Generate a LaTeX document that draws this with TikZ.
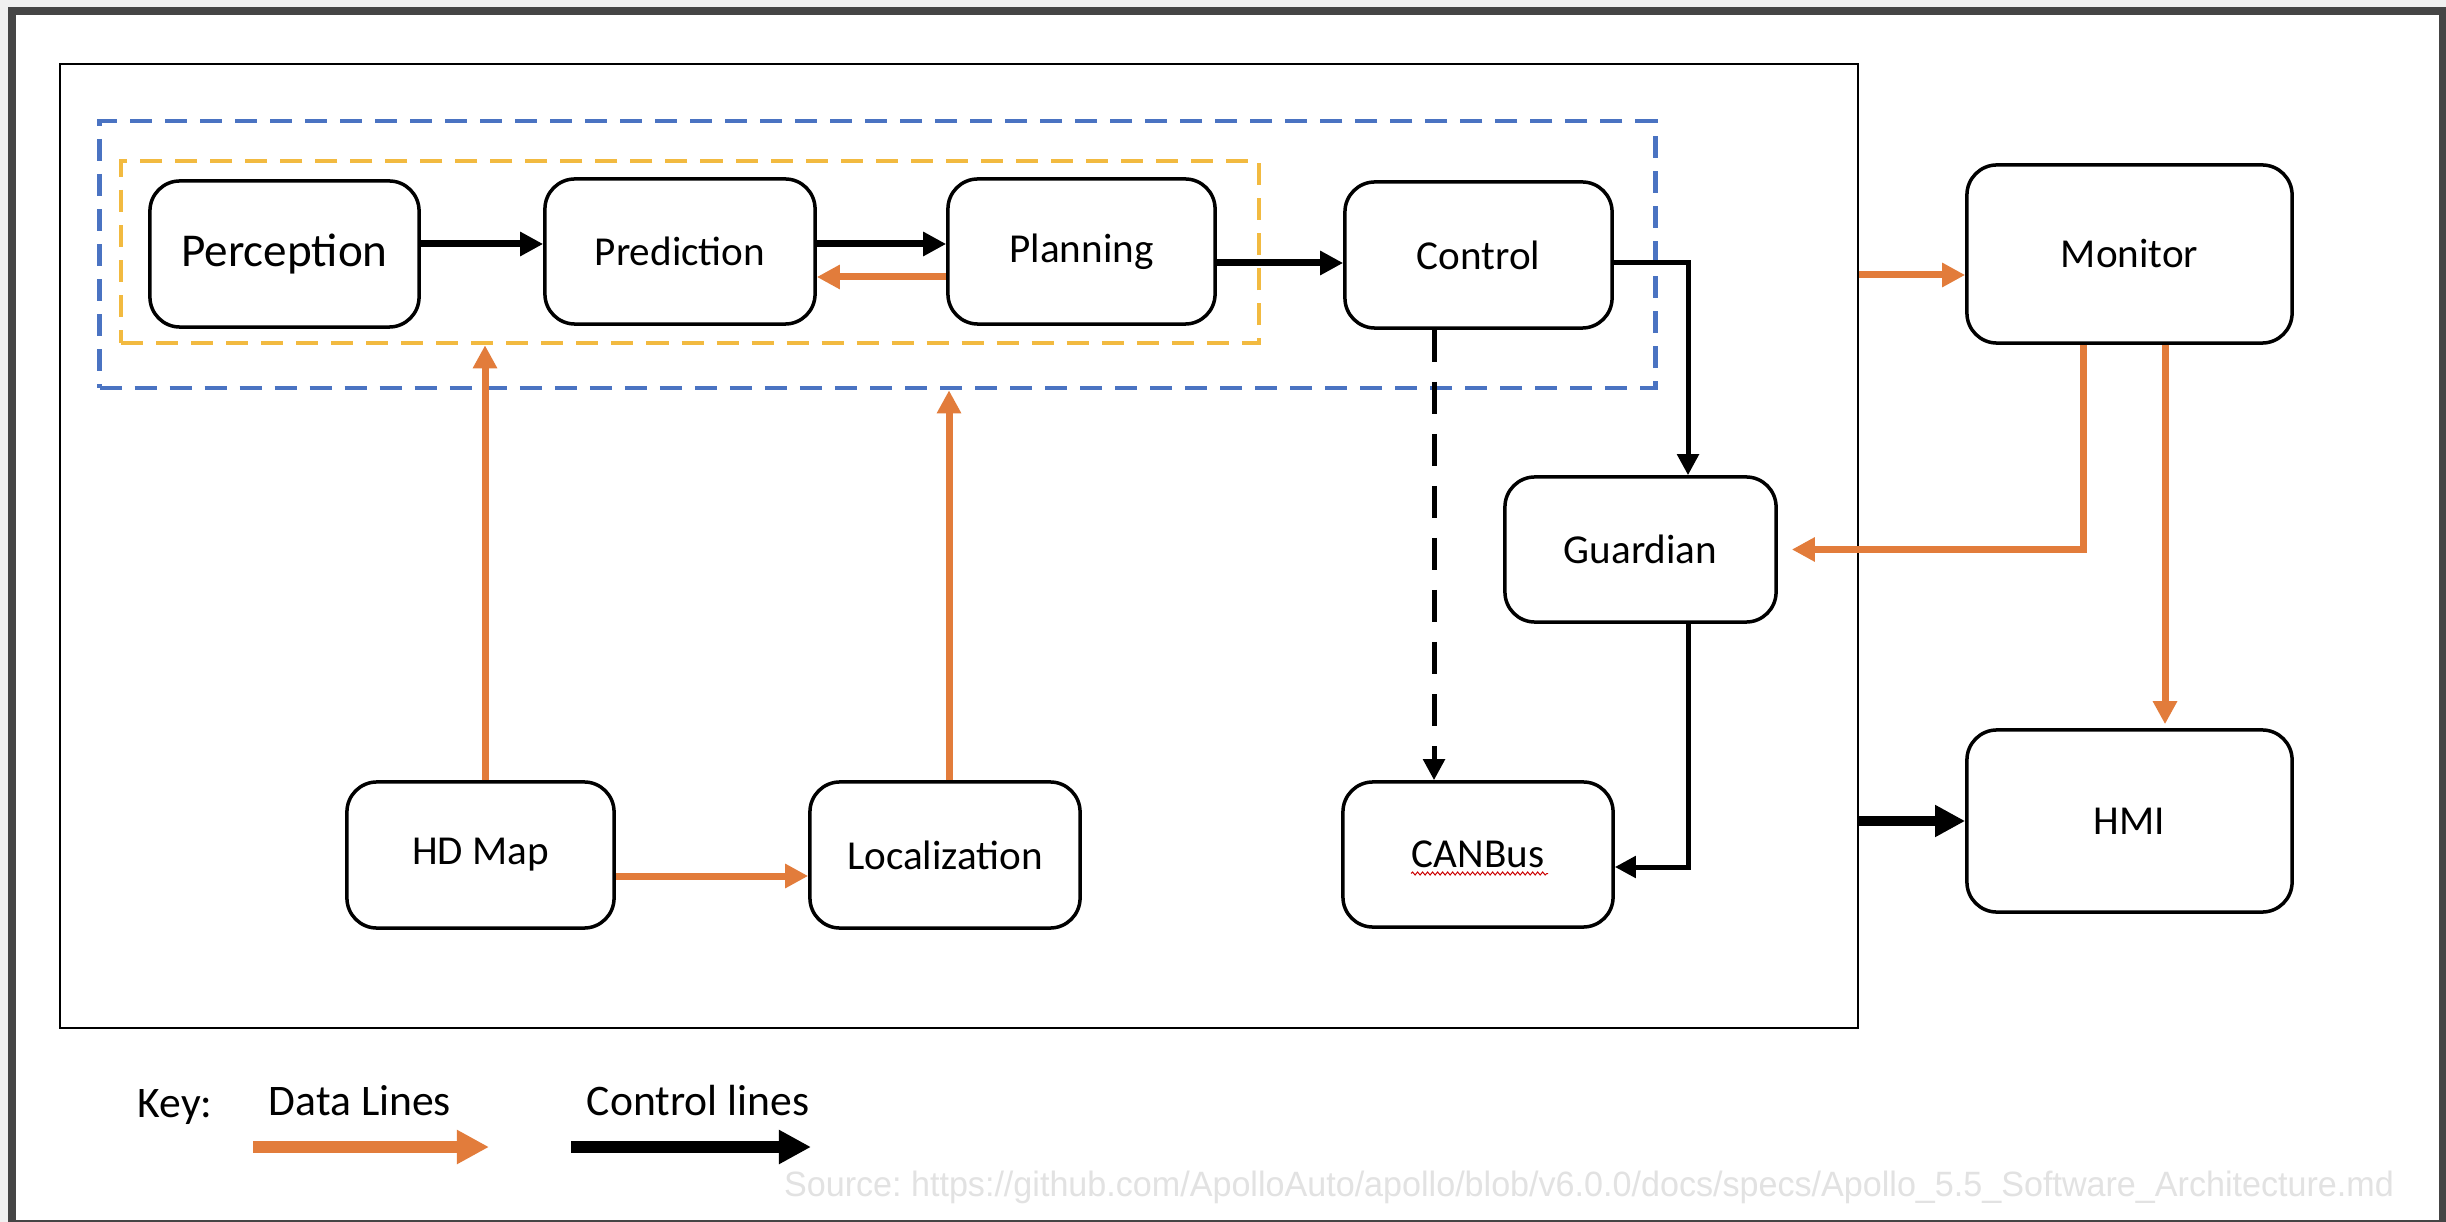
\documentclass[tikz,border=0pt]{standalone}
\usepackage{fontspec}
\usepackage{graphicx}
\setmainfont{Carlito}
\newfontfamily\srcfont{Liberation Sans}
\usetikzlibrary{arrows.meta,calc,decorations.pathmorphing}
\definecolor{dataorange}{HTML}{E27C3B}
\definecolor{groupblue}{HTML}{4A73C2}
\definecolor{groupyellow}{HTML}{F2BA40}
\definecolor{pageframe}{HTML}{454545}
\definecolor{pagegray}{HTML}{F0F0F0}
\definecolor{sourcegray}{HTML}{E2E2E2}
\frenchspacing
\begin{document}
\begin{tikzpicture}[x=0.01cm,y=-0.01cm,
  module/.style={draw, line width=0.035cm, rounded corners=0.3cm, fill=white,
    inner sep=0pt, font=\fontsize{11.7pt}{14pt}\selectfont},
  bigmodule/.style={module, font=\fontsize{13.4pt}{16pt}\selectfont},
  group/.style={draw, line width=0.045cm, dash pattern=on 0.22cm off 0.13cm, inner sep=0pt},
  dataline/.style={draw=dataorange, line width=0.07cm, -{Triangle[length=0.23cm,width=0.23cm]}},
  ctrlline/.style={draw=black, line width=0.07cm, -{Triangle[length=0.23cm,width=0.23cm]}},
  ctrlthin/.style={draw=black, line width=0.05cm, -{Triangle[length=0.21cm,width=0.21cm]}},
  ctrldash/.style={ctrlthin, dash pattern=on 0.32cm off 0.2cm},
  ctrlthick/.style={draw=black, line width=0.1cm, -{Triangle[length=0.3cm,width=0.3cm]}},
  legendarrow/.style={line width=0.12cm, -{Triangle[length=0.32cm,width=0.32cm]}},
  legendtext/.style={font=\fontsize{12.4pt}{15pt}\selectfont, inner sep=0pt}]

% page background and window frame
\useasboundingbox (0,0) rectangle (2446,1222);
\fill[pagegray] (0,0) rectangle (2446,1222);
\fill[pageframe] (8,7) rectangle (2446,1222);
\fill[white] (16,15) rectangle (2439,1220);

% system boundary and module groups
\node[draw, line width=0.02cm, minimum width=17.96cm, minimum height=9.64cm, inner sep=0pt] (frame) at (959,546) {};
\node[group, draw=groupblue, minimum width=15.55cm, minimum height=2.67cm] (blue) at (877.5,254.5) {};
\node[group, draw=groupyellow, minimum width=11.37cm, minimum height=1.82cm] (yellow) at (690,252) {};

% modules
\node[bigmodule, minimum width=2.69cm, minimum height=1.46cm] (perc) at (284.5,254) {Perception};
\node[module, minimum width=2.70cm, minimum height=1.45cm] (pred) at (680,251.5) {Prediction};
\node[module, minimum width=2.67cm, minimum height=1.45cm] (plan) at (1081.5,251.5) {Planning};
\node[module, minimum width=2.67cm, minimum height=1.46cm] (ctrl) at (1478.5,255) {Control};
\node[module, minimum width=2.71cm, minimum height=1.45cm] (guard) at (1640.5,549.5) {Guardian};
\node[module, minimum width=2.70cm, minimum height=1.45cm] (canbus) at (1478,854.5) {CANBus};
\node[module, minimum width=2.67cm, minimum height=1.46cm] (hdmap) at (480.5,855) {HD Map};
\node[module, minimum width=2.70cm, minimum height=1.46cm] (loc) at (945,855) {Localization};
\node[module, minimum width=3.25cm, minimum height=1.78cm] (mon) at (2129.5,254) {Monitor};
\node[module, minimum width=3.25cm, minimum height=1.82cm] (hmi) at (2129.5,821) {HMI};

% spell-check squiggle under CANBus
\draw[red!80!black, line width=0.01cm, decorate,
  decoration={snake, amplitude=0.015cm, segment length=0.05cm}]
  ($(canbus.center)+(-67,19)$) -- ($(canbus.center)+(70,19)$);

% pipeline connectors
\draw[ctrlline] ($(perc.east)+(0,-10)$) -- ($(pred.west)+(0,-7.5)$);
\draw[ctrlline] ($(pred.east)+(0,-7.5)$) -- ($(plan.west)+(0,-7.5)$);
\draw[dataline] ($(plan.west)+(0,25.5)$) -- ($(pred.east)+(0,25.5)$);
\draw[ctrlline] ($(plan.east)+(0,11.5)$) -- ($(ctrl.west)+(0,8)$);
\draw[ctrlthin] ($(ctrl.east)+(0,8)$) -| ($(guard.north)+(47.5,0)$);
\draw[ctrldash] ($(ctrl.south)+(-44.5,0)$) -- ($(canbus.north)+(-44,0)$);
\draw[ctrlthin] ($(guard.south)+(47.5,0)$) |- ($(canbus.east)+(0,12.5)$);

% map and localization feeds
\draw[dataline] ($(hdmap.east)+(0,21)$) -- ($(loc.west)+(0,21)$);
\coordinate (hdup) at ($(hdmap.north)+(4.5,0)$);
\draw[dataline] (hdup) -- (hdup |- yellow.south);
\coordinate (locup) at ($(loc.north)+(4,0)$);
\draw[dataline] (locup) -- (locup |- blue.south);

% monitor and HMI
\coordinate (monin) at ($(mon.west)+(0,21)$);
\draw[dataline] (frame.east |- monin) -- (monin);
\draw[dataline, shorten >=0.14cm] ($(mon.south)+(-46.5,0)$) |- (guard.east);
\draw[dataline, shorten >=0.04cm] ($(mon.south)+(35.5,0)$) -- ($(hmi.north)+(35.5,0)$);
\draw[ctrlthick] (frame.east |- hmi.west) -- (hmi.west);

% key
\node[legendtext, anchor=base west] (key) at (137,1117) {Key:};
\node[legendtext, anchor=base] (keydata) at (360,1115) {Data Lines};
\node[legendtext, anchor=base] (keyctrl) at (698,1115) {Control lines};
\coordinate (kd0) at (253,1147);
\coordinate (kd1) at (489,1147);
\coordinate (kc0) at (571,1147);
\coordinate (kc1) at (811,1147);
\draw[legendarrow, dataorange] (kd0) -- (kd1);
\draw[legendarrow, black] (kc0) -- (kc1);

% source note
\node[text=sourcegray, font=\srcfont\fontsize{10pt}{12pt}\selectfont, inner sep=0pt] (source) at (1589,1187)
  {\scalebox{0.97}[1]{Source: https://github.com/ApolloAuto/apollo/blob/v6.0.0/docs/specs/Apollo\_5.5\_Software\_Architecture.md}};
\end{tikzpicture}
\end{document}
